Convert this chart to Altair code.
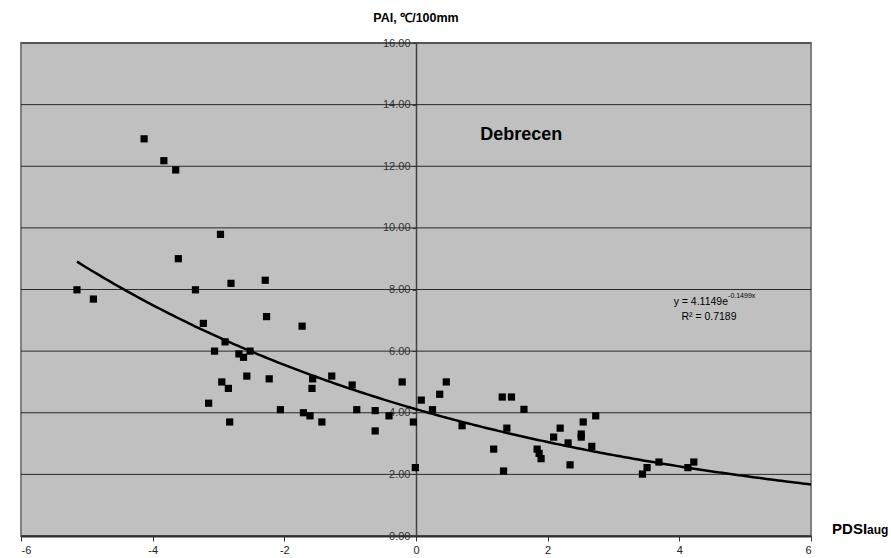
import altair as alt
import pandas as pd

# ---- data ----
pdsi = [-5.15, -4.90, -4.13, -3.83, -3.65, -3.61, -3.35, -3.23, -3.15, -3.06,
        -2.97, -2.95, -2.90, -2.85, -2.83, -2.81, -2.69, -2.62, -2.57, -2.52,
        -2.29, -2.27, -2.23, -2.06, -1.73, -1.71, -1.61, -1.58, -1.57, -1.43,
        -1.28, -0.97, -0.90, -0.62, -0.62, -0.41, -0.21, -0.04, -0.01, 0.08,
        0.25, 0.36, 0.46, 0.70, 1.18, 1.31, 1.33, 1.38, 1.45, 1.64,
        1.84, 1.87, 1.90, 2.09, 2.19, 2.31, 2.34, 2.51, 2.51, 2.54,
        2.67, 2.73, 3.44, 3.51, 3.69, 4.13, 4.22]
pai = [7.99, 7.69, 12.89, 12.18, 11.88, 9.00, 7.99, 6.90, 4.31, 6.00,
       9.79, 5.00, 6.30, 4.79, 3.70, 8.20, 5.91, 5.80, 5.19, 6.00,
       8.30, 7.12, 5.10, 4.10, 6.81, 4.00, 3.90, 4.79, 5.10, 3.70,
       5.19, 4.90, 4.10, 4.07, 3.41, 3.90, 5.00, 3.70, 2.22, 4.41,
       4.10, 4.60, 5.00, 3.58, 2.82, 4.51, 2.11, 3.50, 4.51, 4.11,
       2.82, 2.68, 2.51, 3.21, 3.50, 3.02, 2.31, 3.31, 3.21, 3.70,
       2.91, 3.90, 2.01, 2.22, 2.40, 2.22, 2.40]

x_ticks = [-6, -4, -2, 0, 2, 4, 6]
y_ticks = [0, 2, 4, 6, 8, 10, 12, 14, 16]

# exponential trendline shown in the chart: y = 4.1149 e^(-0.1499 x)
fit_a = 4.1149
fit_b = -0.1499
fit_start = -5.15
fit_stop = 6.0

FONT = "Liberation Sans"

points = pd.DataFrame({"x": pdsi, "y": pai})
grid = pd.DataFrame({"y": y_ticks})

xscale = alt.Scale(domain=[-6, 6], nice=False, zero=False)
yscale = alt.Scale(domain=[0, 16], nice=False, zero=False)

xaxis = alt.Axis(values=x_ticks, labelExpr="datum.value + ''", grid=False, title=None,
                 domainColor="#333333", domainWidth=2, tickColor="#333333",
                 tickSize=5, labelFont=FONT, labelFontSize=11, labelColor="#222222",
                 labelPadding=3)
yaxis = alt.Axis(values=y_ticks, format=".2f", grid=False, title=None,
                 offset=-395, domainColor="#404040", domainWidth=1.5,
                 tickColor="#404040", tickSize=4, labelFont=FONT, labelFontSize=11,
                 labelColor="#333333", labelPadding=2)

X = alt.X("x:Q", scale=xscale, axis=xaxis)
Y = alt.Y("y:Q", scale=yscale, axis=yaxis)

gridlines = alt.Chart(grid).mark_rule(color="#2a2a2a", strokeWidth=1).encode(
    y=alt.Y("y:Q", scale=yscale, axis=yaxis)
)

curve = (
    alt.Chart(alt.sequence(start=fit_start, stop=fit_stop + 0.001, step=0.05, as_="x"))
    .transform_calculate(y=f"{fit_a} * exp({fit_b} * datum.x)")
    .mark_line(color="black", strokeWidth=2.5)
    .encode(x=X, y=Y)
)

dots = alt.Chart(points).mark_square(color="black", size=52, opacity=1).encode(x=X, y=Y)

ann = pd.DataFrame({
    "x": [1.6, 4.74, 4.74, 4.45, 6.32, 6.85],
    "y": [13.0, 7.6, 7.78, 7.1, 0.05, 0.05],
    "t": ["Debrecen", "y = 4.1149e", "-0.1499x", "R\u00b2 = 0.7189", "PDSI", "aug"],
})

def txt(i, **kw):
    return alt.Chart(ann.iloc[[i]]).mark_text(font=FONT, color="black", clip=False, **kw).encode(
        x=X, y=Y, text="t:N")

texts = [
    txt(0, fontSize=18, fontWeight="bold", align="center", baseline="middle"),
    txt(1, fontSize=10.5, align="right", baseline="middle"),
    txt(2, fontSize=7, align="left", baseline="middle"),
    txt(3, fontSize=10.5, align="center", baseline="middle"),
    txt(4, fontSize=15, fontWeight="bold", align="left", baseline="alphabetic"),
    txt(5, fontSize=12, fontWeight="bold", align="left", baseline="alphabetic"),
]

chart = alt.layer(gridlines, curve, dots, *texts).properties(
    width=790, height=493,
    background="white",
    autosize=alt.AutoSizeParams(type="none"),
    padding={"left": 21, "top": 43, "right": 80, "bottom": 22},
    title=alt.TitleParams("PAI, \u2103/100mm", font=FONT, fontSize=12.5, fontWeight="bold",
                          anchor="middle", offset=13, color="black"),
).configure_view(
    fill="#c0c0c0", stroke="#808080", strokeWidth=2
)

chart.save("out.html", embed_options={"renderer": "svg", "actions": False})
